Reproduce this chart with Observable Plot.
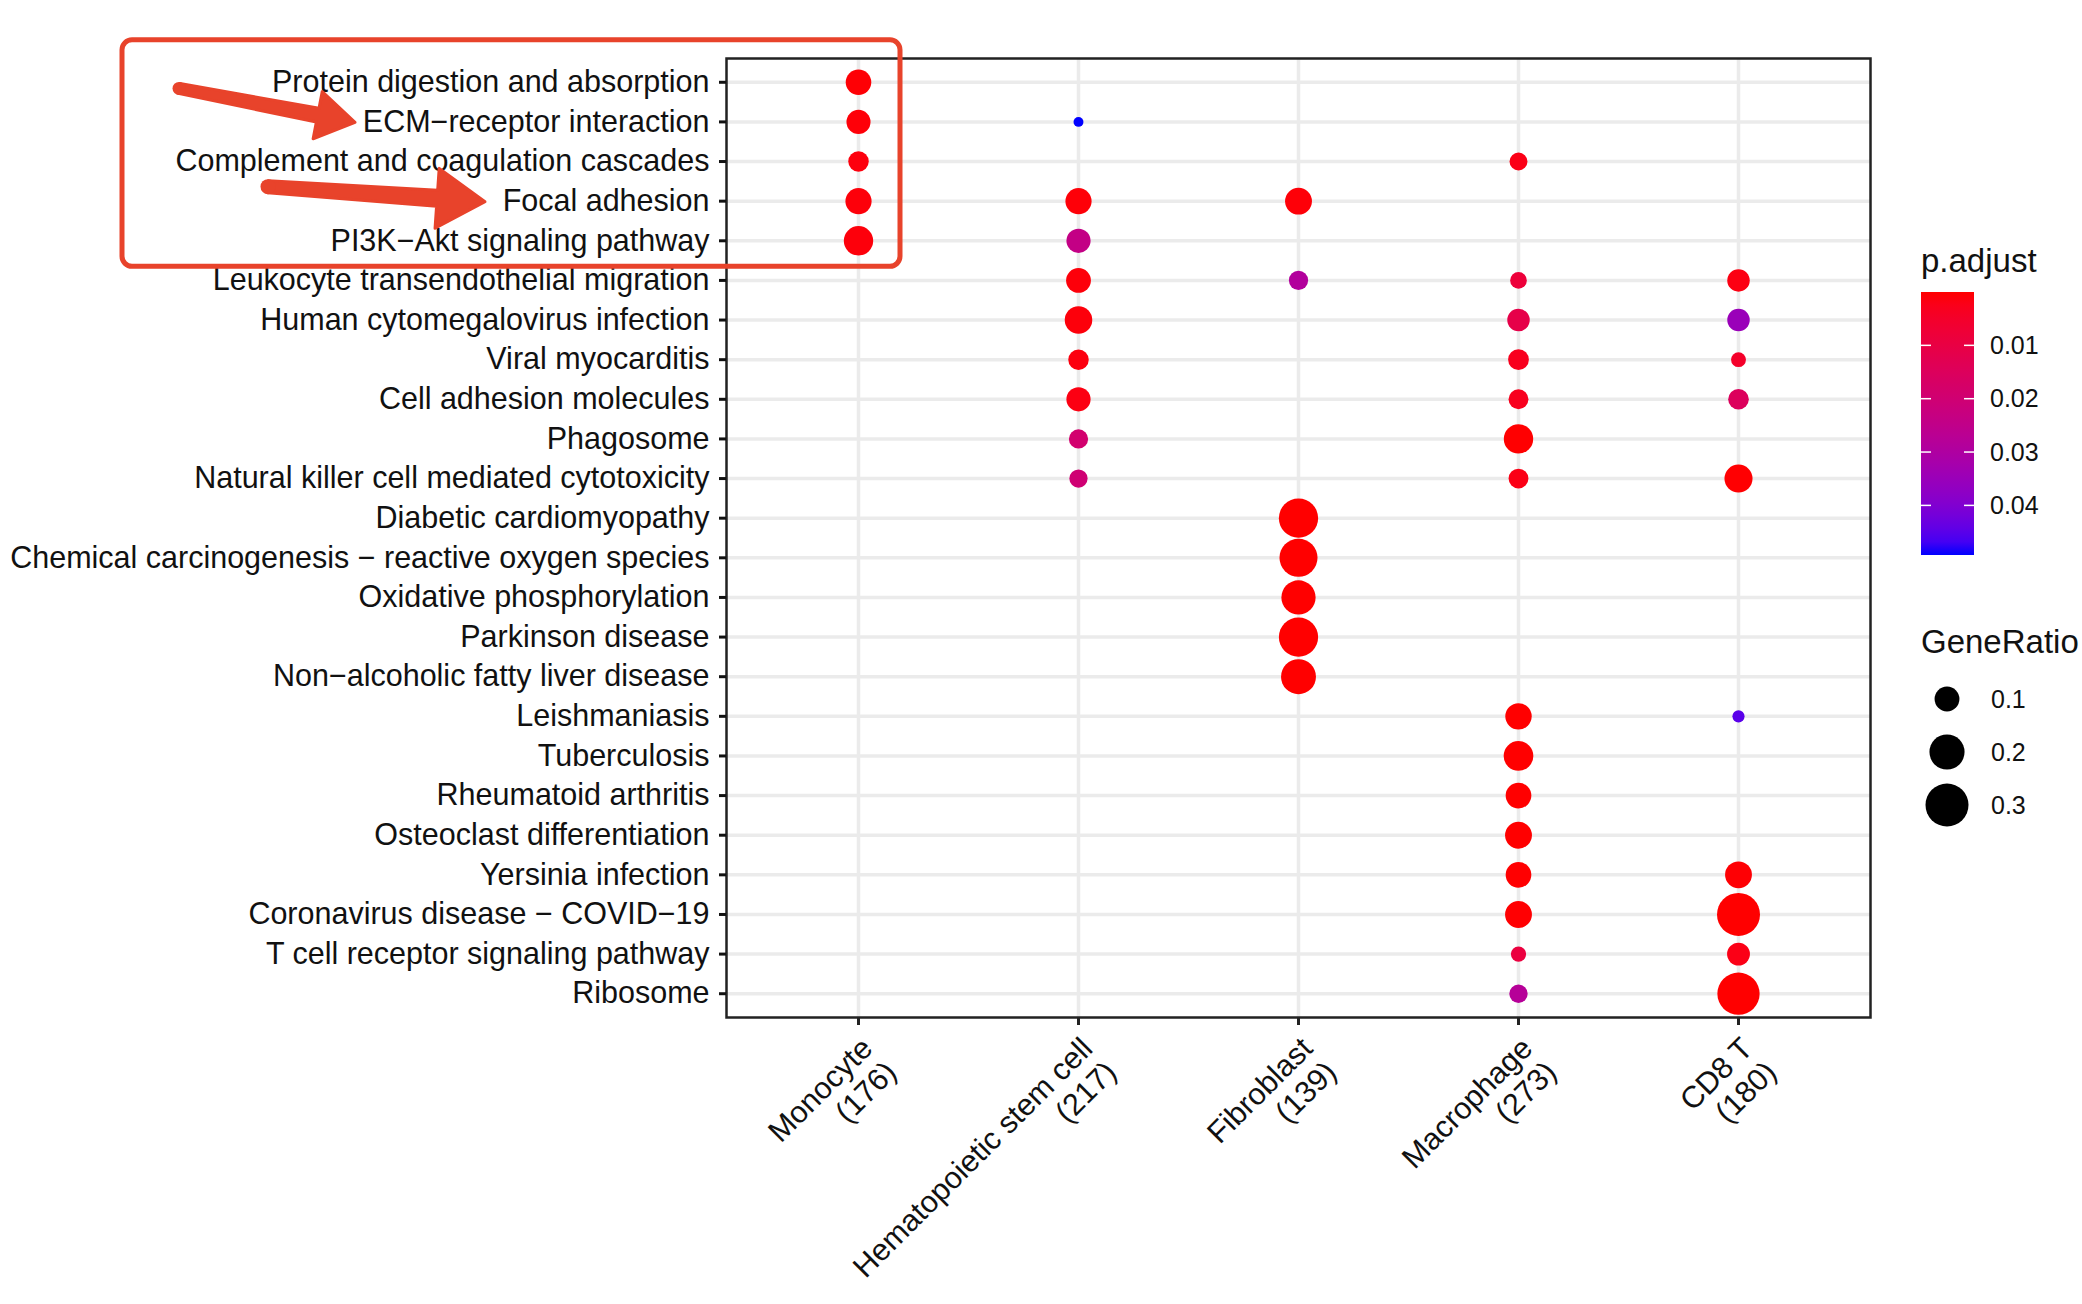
<!DOCTYPE html>
<html><head><meta charset="utf-8">
<script src="https://cdn.jsdelivr.net/npm/d3@7"></script>
<script src="https://cdn.jsdelivr.net/npm/@observablehq/plot@0.6"></script>
<style>
body{margin:0;background:#fff;}
#wrap{position:relative;width:2082px;height:1304px;font-family:"Liberation Sans",Arial,sans-serif;background:#fff;}
#wrap svg{position:absolute;left:0;top:0;}
</style></head><body><div id="wrap"></div>
<script>
// ---- categories ----
const cellTypes = ["Monocyte\n(176)", "Hematopoietic stem cell\n(217)", "Fibroblast\n(139)", "Macrophage\n(273)", "CD8 T\n(180)"];
const pathways = [
  "Protein digestion and absorption",
  "ECM\u2212receptor interaction",
  "Complement and coagulation cascades",
  "Focal adhesion",
  "PI3K\u2212Akt signaling pathway",
  "Leukocyte transendothelial migration",
  "Human cytomegalovirus infection",
  "Viral myocarditis",
  "Cell adhesion molecules",
  "Phagosome",
  "Natural killer cell mediated cytotoxicity",
  "Diabetic cardiomyopathy",
  "Chemical carcinogenesis \u2212 reactive oxygen species",
  "Oxidative phosphorylation",
  "Parkinson disease",
  "Non\u2212alcoholic fatty liver disease",
  "Leishmaniasis",
  "Tuberculosis",
  "Rheumatoid arthritis",
  "Osteoclast differentiation",
  "Yersinia infection",
  "Coronavirus disease \u2212 COVID\u221219",
  "T cell receptor signaling pathway",
  "Ribosome"
];
// ---- series (term index into pathways, GeneRatio, p.adjust) ----
const monocyteTerms = [0, 1, 2, 3, 4];
const monocyteRatio = [0.106, 0.094, 0.068, 0.111, 0.140];
const monocytePadj  = [0.0004, 0.0006, 0.0010, 0.0008, 0.0009];

const hscTerms = [1, 3, 4, 5, 6, 7, 8, 9, 10];
const hscRatio = [0.016, 0.111, 0.095, 0.100, 0.123, 0.068, 0.095, 0.060, 0.054];
const hscPadj  = [0.0493, 0.0006, 0.024, 0.0008, 0.0009, 0.0012, 0.0015, 0.019, 0.020];

const fibroTerms = [3, 5, 11, 12, 13, 14, 15];
const fibroRatio = [0.117, 0.060, 0.250, 0.235, 0.190, 0.250, 0.198];
const fibroPadj  = [0.0006, 0.029, 1e-8, 1e-8, 1e-9, 1e-8, 1e-7];

const macroTerms = [2, 5, 6, 7, 8, 9, 10, 16, 17, 18, 19, 20, 21, 22, 23];
const macroRatio = [0.052, 0.045, 0.082, 0.070, 0.064, 0.140, 0.064, 0.113, 0.143, 0.107, 0.117, 0.107, 0.117, 0.038, 0.055];
const macroPadj  = [0.002, 0.008, 0.011, 0.003, 0.003, 0.0001, 0.002, 0.00001, 0.00001, 0.00002, 0.00002, 0.0001, 0.0002, 0.009, 0.028];

const cd8Terms = [5, 6, 7, 8, 10, 16, 20, 21, 22, 23];
const cd8Ratio = [0.082, 0.082, 0.036, 0.069, 0.128, 0.024, 0.117, 0.300, 0.085, 0.290];
const cd8Padj  = [0.0015, 0.035, 0.005, 0.015, 0.0002, 0.045, 0.0003, 1e-10, 0.002, 1e-12];

// legend breaks
const padjBreaks = [0.01, 0.02, 0.03, 0.04];
const ratioBreaks = [0.1, 0.2, 0.3];

// ---- build table ----
const groups = [
  [monocyteTerms, monocyteRatio, monocytePadj],
  [hscTerms, hscRatio, hscPadj],
  [fibroTerms, fibroRatio, fibroPadj],
  [macroTerms, macroRatio, macroPadj],
  [cd8Terms, cd8Ratio, cd8Padj]
];
const data = [];
groups.forEach(([t, r, p], gi) => t.forEach((ti, i) => data.push({cell: cellTypes[gi], term: pathways[ti], ratio: r[i], padj: p[i]})));

const W = 2082, H = 1304;
const font = '"Liberation Sans", Arial, sans-serif';
const colorOpts = {type: "linear", domain: d3.extent(data, d => d.padj), range: ["#ff0000", "#0000ff"], interpolate: "lab"};
const rOpts = {type: "sqrt", domain: [0, 0.3], range: [0, 21.5]};

const plot = Plot.plot({
  width: W, height: H,
  marginLeft: 726, marginRight: 212, marginTop: 58, marginBottom: 287,
  style: {fontFamily: font, background: "transparent", color: "#111"},
  x: {type: "point", domain: cellTypes, padding: 0.6, round: false, label: null},
  y: {type: "point", domain: pathways, padding: 0.6, round: false, label: null},
  color: colorOpts,
  r: rOpts,
  marks: [
    Plot.gridX({stroke: "#ebebeb", strokeOpacity: 1, strokeWidth: 3.5}),
    Plot.gridY({stroke: "#ebebeb", strokeOpacity: 1, strokeWidth: 3.5}),
    Plot.dot(data, {x: "cell", y: "term", r: "ratio", fill: "padj"}),
    Plot.frame({stroke: "#222", strokeWidth: 2.5}),
    Plot.axisY({tickSize: 7, tickPadding: 10, fontSize: 30.5, strokeWidth: 3, color: "#111", label: null}),
    Plot.axisX({tickSize: 8, strokeWidth: 3, color: "#222", tickFormat: () => "", label: null}),
    Plot.text(cellTypes, {x: d => d, frameAnchor: "bottom", dx: -1, dy: 16, rotate: -45, textAnchor: "end", lineAnchor: "top", fontSize: 30.5, lineHeight: 1.1, fill: "#111"})
  ]
});
const wrap = document.getElementById("wrap");
wrap.appendChild(plot);

// ---- legends & annotations overlay ----
const cs = Plot.scale({color: colorOpts});
const rs = Plot.scale({r: rOpts});
const xs = Plot.scale({x: plot.scale("x")});
const ys = Plot.scale({y: plot.scale("y")});

const ov = d3.create("svg").attr("width", W).attr("height", H)
  .style("pointer-events", "none").attr("font-family", font).attr("fill", "#111");

// p.adjust colorbar
ov.append("text").attr("x", 1921).attr("y", 272).attr("font-size", 33).text("p.adjust");
const barTop = 292, barBot = 555, barL = 1921, barW = 53;
const dom = cs.domain;
const yb = d3.scaleLinear().domain(dom).range([barTop, barBot]);
const grad = ov.append("defs").append("linearGradient").attr("id", "pg").attr("x1", 0).attr("y1", 0).attr("x2", 0).attr("y2", 1);
d3.range(0, 1.0001, 0.05).forEach(t => grad.append("stop").attr("offset", t).attr("stop-color", cs.apply(dom[0] + t * (dom[1] - dom[0]))));
ov.append("rect").attr("x", barL).attr("y", barTop).attr("width", barW).attr("height", barBot - barTop).attr("fill", "url(#pg)");
padjBreaks.forEach(v => {
  const y = yb(v);
  ov.append("line").attr("x1", barL).attr("x2", barL + 10).attr("y1", y).attr("y2", y).attr("stroke", "#fff").attr("stroke-width", 1.5);
  ov.append("line").attr("x1", barL + barW - 10).attr("x2", barL + barW).attr("y1", y).attr("y2", y).attr("stroke", "#fff").attr("stroke-width", 1.5);
  ov.append("text").attr("x", 1990).attr("y", y).attr("dy", "0.35em").attr("font-size", 25).text(v.toFixed(2));
});

// GeneRatio size legend
ov.append("text").attr("x", 1921).attr("y", 653).attr("font-size", 33).text("GeneRatio");
ratioBreaks.forEach((v, i) => {
  const cy = 699 + i * 53;
  ov.append("circle").attr("cx", 1947).attr("cy", cy).attr("r", rs.apply(v)).attr("fill", "#000");
  ov.append("text").attr("x", 1991).attr("y", cy).attr("dy", "0.35em").attr("font-size", 25).text(v.toFixed(1));
});

// red highlight box + arrows
const red = "#e8432b";
const boxTop = ys.apply(pathways[0]) - 42, boxBot = ys.apply(pathways[4]) + 26;
const boxRight = xs.apply(cellTypes[0]) + 42, boxLeft = 122;
ov.append("rect").attr("x", boxLeft).attr("y", boxTop).attr("width", boxRight - boxLeft).attr("height", boxBot - boxTop)
  .attr("rx", 10).attr("fill", "none").attr("stroke", red).attr("stroke-width", 5);
function arrow(T, P, headLen, hw, sw, tw) {
  const dx = P[0] - T[0], dy = P[1] - T[1], L = Math.hypot(dx, dy);
  const u = [dx / L, dy / L], n = [-u[1], u[0]];
  const B = [P[0] - u[0] * headLen, P[1] - u[1] * headLen];
  const pts = [
    [T[0] + n[0] * tw, T[1] + n[1] * tw], [B[0] + n[0] * sw, B[1] + n[1] * sw], [B[0] + n[0] * hw, B[1] + n[1] * hw],
    P, [B[0] - n[0] * hw, B[1] - n[1] * hw], [B[0] - n[0] * sw, B[1] - n[1] * sw], [T[0] - n[0] * tw, T[1] - n[1] * tw]
  ];
  ov.append("polygon").attr("points", pts.map(p => p.join(",")).join(" ")).attr("fill", red)
    .attr("stroke", red).attr("stroke-width", 3).attr("stroke-linejoin", "round");
  ov.append("circle").attr("cx", T[0]).attr("cy", T[1]).attr("r", tw + 1.5).attr("fill", red);
}
const yECM = ys.apply(pathways[1]), yFocal = ys.apply(pathways[3]);
arrow([179, yECM - 33], [355, yECM + 1], 38, 24, 7, 5);
arrow([268, yFocal - 14], [485, yFocal + 1], 48, 30, 8, 6);

wrap.appendChild(ov.node());
</script>
</body></html>
